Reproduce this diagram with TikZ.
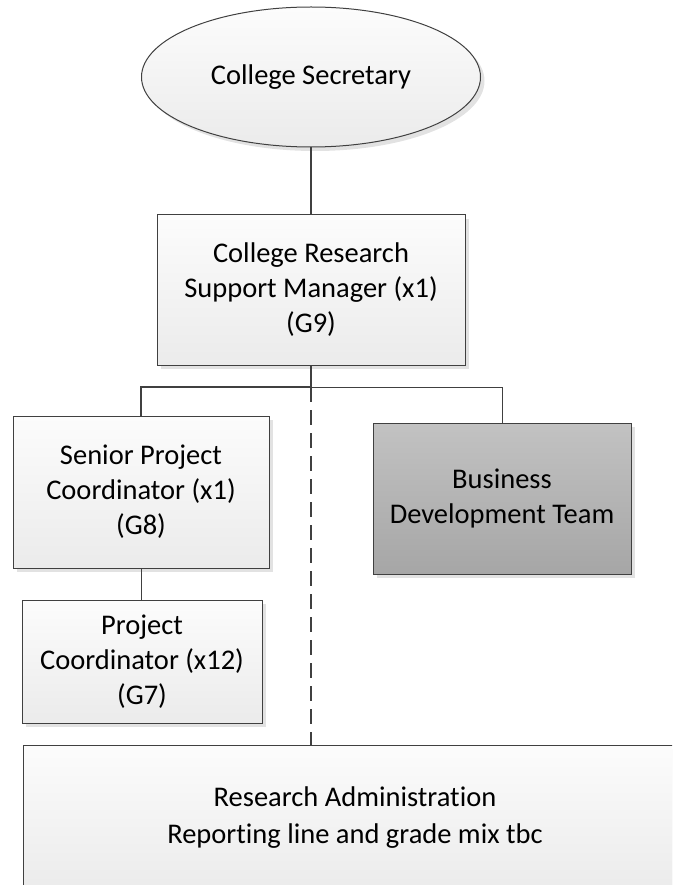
\documentclass[tikz,border=0pt]{standalone}
\usepackage{fontspec}
\setmainfont{Carlito}[Ligatures={NoCommon}]
\usetikzlibrary{shapes.geometric,shadows}
\definecolor{edgec}{HTML}{404040}
\definecolor{lighttop}{HTML}{FCFCFC}
\definecolor{lightbot}{HTML}{EBEBEB}
\definecolor{darktop}{HTML}{C2C2C2}
\definecolor{darkbot}{HTML}{A6A6A6}
\definecolor{shadowc}{HTML}{E2E2E2}
\tikzset{
  boxbase/.style={draw=edgec, line width=1pt, align=center, inner sep=0pt,
    font=\fontsize{28.5}{35}\selectfont, text=black,
    drop shadow={shadow xshift=4pt, shadow yshift=-4pt, fill=shadowc, opacity=1}},
  lightbox/.style={boxbase, rectangle, top color=lighttop, bottom color=lightbot},
  darkbox/.style={boxbase, rectangle, top color=darktop, bottom color=darkbot},
  ovalbox/.style={boxbase, ellipse, top color=lighttop, bottom color=lightbot},
  thickline/.style={draw=edgec, line width=2pt},
  thinline/.style={draw=edgec, line width=1pt},
  dashline/.style={draw=edgec, line width=2pt, dash pattern=on 15pt off 8pt}
}
\begin{document}
\begin{tikzpicture}[x=1pt,y=-1pt]
\useasboundingbox (0,0) rectangle (672,885);
\clip (0,0) rectangle (672,885);
\node[ovalbox, minimum width=339pt, minimum height=140pt] (sec) at (311,77) {College Secretary};
\node[lightbox, minimum width=308pt, minimum height=150pt] (crsm) at (311,290) {College Research\\Support Manager (x1)\\(G9)};
\node[lightbox, minimum width=256pt, minimum height=152pt] (spc) at (141,492) {Senior Project\\Coordinator (x1)\\(G8)};
\node[lightbox, minimum width=240pt, minimum height=123pt] (pc) at (142,661.5) {Project\\Coordinator (x12)\\(G7)};
\node[darkbox, minimum width=258pt, minimum height=151pt] (bdt) at (502,498.5) {Business\\Development Team};
\node[lightbox, minimum width=664pt, minimum height=146pt, font=\fontsize{28.5}{37}\selectfont] (ra) at (355,818) {Research Administration\\Reporting line and grade mix tbc};
\coordinate (bus) at (311,387);
\draw[thickline] (sec.south) -- (crsm.north);
\draw[thickline] (crsm.south) -- (bus);
\draw[thickline, line width=2.5pt] (bus) -| (spc.north);
\draw[thinline] (bus) -| (bdt.north);
\draw[thinline] (spc.south) -- (spc.south |- pc.north);
\draw[dashline] (bus) -- (bus |- ra.north);
\end{tikzpicture}
\end{document}
